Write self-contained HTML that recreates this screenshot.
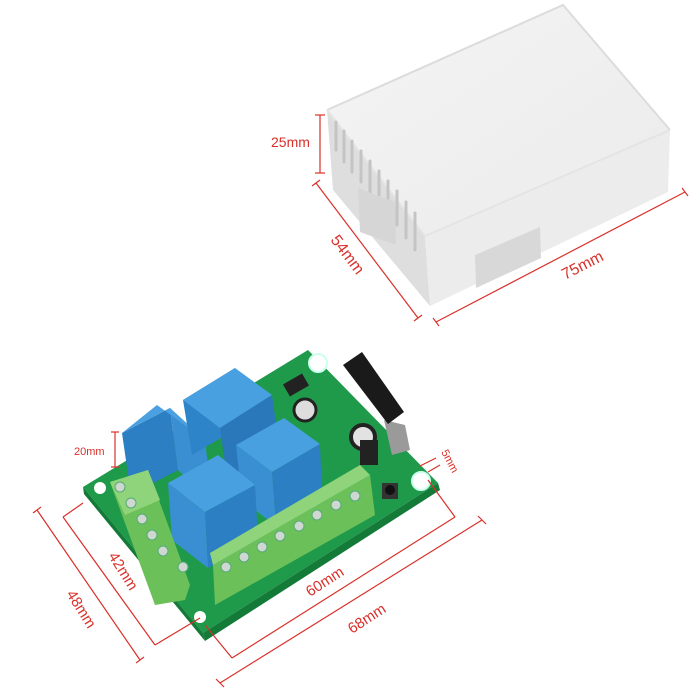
<!DOCTYPE html>
<html><head><meta charset="utf-8"><style>
html,body{margin:0;padding:0;background:#fff;}
svg{display:block}
text{font-family:"Liberation Sans",sans-serif;fill:#d9302a}
</style></head><body>
<svg width="700" height="700" viewBox="0 0 700 700" xmlns="http://www.w3.org/2000/svg">
<defs>
<linearGradient id="top" x1="0" y1="0" x2="1" y2="1"><stop offset="0" stop-color="#f4f4f4"/><stop offset="1" stop-color="#ebebeb"/></linearGradient>
</defs>
<polygon points="333,190 327,110 425,236 430,306" fill="#dedede"/>
<polygon points="425,236 670,130 668,192 430,306" fill="#ececec"/>
<polygon points="327,110 563,5 670,130 425,236" fill="url(#top)"/>
<polyline points="327,110 563,5 670,130" fill="none" stroke="#dcdcdc" stroke-width="2"/>
<polyline points="327,110 425,236 670,130" fill="none" stroke="#e4e4e4" stroke-width="2"/>
<g stroke="#c4c4c4" stroke-width="3" stroke-linecap="round">
<line x1="336" y1="122" x2="336" y2="150"/><line x1="344" y1="131" x2="344" y2="162"/>
<line x1="352" y1="141" x2="352" y2="172"/><line x1="361" y1="151" x2="361" y2="182"/>
<line x1="370" y1="161" x2="370" y2="195"/><line x1="379" y1="171" x2="379" y2="205"/>
<line x1="388" y1="181" x2="388" y2="215"/><line x1="397" y1="191" x2="397" y2="225"/>
<line x1="406" y1="202" x2="406" y2="238"/><line x1="415" y1="213" x2="415" y2="250"/>
</g>
<polygon points="358,188 395,202 396,245 360,232" fill="#d6d6d6"/>
<polygon points="475,255 540,227 541,258 476,288" fill="#d8d8d8"/>
<g stroke="#d9302a" stroke-width="1.2" fill="none">
<line x1="320" y1="115" x2="320" y2="173"/><line x1="315" y1="115" x2="325" y2="115"/><line x1="315" y1="173" x2="325" y2="173"/>
<line x1="316" y1="183" x2="418" y2="318"/><line x1="312" y1="186" x2="320" y2="180"/><line x1="414" y1="321" x2="422" y2="315"/>
<line x1="436" y1="322" x2="685" y2="192"/><line x1="433" y1="318" x2="439" y2="326"/><line x1="682" y1="188" x2="688" y2="196"/>
</g>
<text x="271" y="147" font-size="14">25mm</text>
<text x="0" y="0" font-size="16" transform="translate(330,240) rotate(53)">54mm</text>
<text x="0" y="0" font-size="16" transform="translate(565,280) rotate(-27)">75mm</text>

<polygon points="83,487 308,350 438,483 203,633" fill="#1f9a4a"/>
<polygon points="83,487 203,633 205,641 84,494" fill="#137a38"/>
<polygon points="203,633 438,483 440,490 205,641" fill="#137a38"/>
<circle cx="318" cy="363" r="9" fill="#fff" stroke="#cfe" stroke-width="2"/>
<circle cx="421" cy="481" r="9" fill="#fff" stroke="#cfe" stroke-width="2"/>
<circle cx="200" cy="617" r="6" fill="#fff"/>
<circle cx="100" cy="488" r="6" fill="#fff"/>
<rect x="285" y="378" width="22" height="14" fill="#222" transform="rotate(-30 296 385)"/>
<circle cx="305" cy="410" r="11" fill="#ddd" stroke="#222" stroke-width="3"/>
<circle cx="363" cy="437" r="12" fill="#e2e2e2" stroke="#222" stroke-width="4"/>
<rect x="360" y="440" width="18" height="25" fill="#222"/>
<polygon points="384,420 405,425 410,450 392,455" fill="#9a9a9a"/>
<rect x="382" y="483" width="16" height="16" fill="#333"/>
<circle cx="390" cy="490" r="5" fill="#111"/>
<polygon points="343,365 362,352 404,412 388,424" fill="#1a1a1a"/>
<g>
<polygon points="122,433 170,408 178,470 131,495" fill="#2b7fc2"/>
<polygon points="170,408 205,440 212,502 178,470" fill="#3a8fd2"/>
<polygon points="122,433 157,405 205,440 170,408" fill="#4aa0e0"/>
<polygon points="183,400 235,368 243,425 192,455" fill="#2e84c8"/>
<polygon points="183,400 235,368 272,395 220,428" fill="#48a0e0"/>
<polygon points="220,428 272,395 280,452 228,485" fill="#2a78ba"/>
<polygon points="236,445 284,418 320,444 272,472" fill="#48a0e0"/>
<polygon points="272,472 320,444 322,497 276,526" fill="#2b7fc2"/>
<polygon points="236,445 272,472 276,526 242,500" fill="#3a8fd2"/>
<polygon points="168,483 218,455 255,485 205,512" fill="#48a0e0"/>
<polygon points="205,512 255,485 258,540 208,568" fill="#2b7fc2"/>
<polygon points="168,483 205,512 208,568 172,540" fill="#3a8fd2"/>
</g>
<polygon points="110,482 148,470 190,585 185,600 155,605" fill="#6cc05a"/>
<polygon points="110,482 148,470 160,500 125,515" fill="#8fd47a"/>
<polygon points="213,565 370,475 375,515 215,605" fill="#6cc05a"/>
<polygon points="213,565 370,475 360,465 210,553" fill="#8fd47a"/>
<g fill="#cfd8d0" stroke="#5a7" stroke-width="1">
<circle cx="120" cy="487" r="5"/><circle cx="131" cy="503" r="5"/><circle cx="142" cy="519" r="5"/><circle cx="152" cy="535" r="5"/><circle cx="163" cy="551" r="5"/><circle cx="183" cy="567" r="5"/>
<circle cx="226" cy="567" r="5"/><circle cx="244" cy="557" r="5"/><circle cx="262" cy="547" r="5"/><circle cx="280" cy="536" r="5"/><circle cx="299" cy="526" r="5"/><circle cx="317" cy="515" r="5"/><circle cx="336" cy="505" r="5"/><circle cx="355" cy="496" r="5"/>
</g>
<g stroke="#d9302a" stroke-width="1.2" fill="none">
<line x1="115" y1="432" x2="115" y2="467"/><line x1="111" y1="432" x2="119" y2="432"/><line x1="111" y1="467" x2="119" y2="467"/>
<line x1="428" y1="472" x2="440" y2="465"/><line x1="420" y1="466" x2="436" y2="458"/>
<line x1="83" y1="503" x2="63" y2="517"/><line x1="63" y1="517" x2="155" y2="645"/><line x1="155" y1="645" x2="200" y2="618"/>
<line x1="37" y1="510" x2="140" y2="660"/><line x1="33" y1="513" x2="41" y2="507"/><line x1="136" y1="663" x2="144" y2="657"/>
<line x1="205" y1="625" x2="232" y2="658"/><line x1="232" y1="658" x2="455" y2="517"/><line x1="455" y1="517" x2="428" y2="480"/>
<line x1="220" y1="683" x2="482" y2="520"/><line x1="216" y1="679" x2="224" y2="687"/><line x1="478" y1="516" x2="486" y2="524"/>
</g>
<text x="74" y="455" font-size="11">20mm</text>
<text x="0" y="0" font-size="11" transform="translate(441,452) rotate(62)">5mm</text>
<text x="0" y="0" font-size="15" transform="translate(108,556) rotate(58)">42mm</text>
<text x="0" y="0" font-size="15" transform="translate(66,594) rotate(58)">48mm</text>
<text x="0" y="0" font-size="15" transform="translate(310,597) rotate(-33)">60mm</text>
<text x="0" y="0" font-size="15" transform="translate(352,634) rotate(-33)">68mm</text>
</svg>
</body></html>
